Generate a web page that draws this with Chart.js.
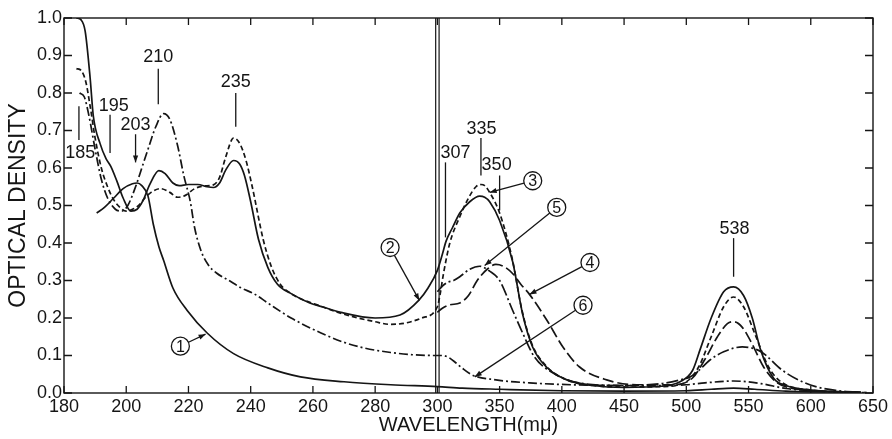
<!DOCTYPE html>
<html>
<head>
<meta charset="utf-8">
<script src="https://cdn.jsdelivr.net/npm/chart.js@4.4.0/dist/chart.umd.min.js"></script>
<style>
  html, body { margin: 0; padding: 0; background: #fff; }
</style>
</head>
<body>
<canvas id="chart" width="892" height="439"></canvas>
<script>
// x axis is broken at 300: 180-300 in steps of 20, 300-650 in steps of 50
const xTickLabels = ['180', '200', '220', '240', '260', '280', '300', '350', '400', '450', '500', '550', '600', '650'];

// curve 1 (solid)
const curve1W = [190.5, 193, 196, 199, 202, 203.5, 205, 207, 208.7, 210.5, 212, 215, 219.6, 226, 234.5, 245.5, 256, 270, 285, 300,
                 320, 350, 400, 450, 500, 520, 538, 555, 580, 640];
const curve1V = [0.48, 0.495, 0.52, 0.545, 0.558, 0.56, 0.553, 0.525, 0.45, 0.39, 0.354, 0.28, 0.22, 0.16, 0.105, 0.067, 0.043, 0.03, 0.022, 0.017,
                 0.013, 0.01, 0.006, 0.005, 0.006, 0.01, 0.013, 0.01, 0.005, 0.002];

// curve 2 (solid)
const curve2W = [184, 185.5, 186.8, 188.4, 189.4, 191.6, 193.5, 195, 197, 199, 201.5, 203.5, 205.5, 207.5, 210.5, 212.5, 215, 217, 220, 223, 226, 228,
                 230, 232, 234.5, 236.5, 238, 240, 242.5, 245.5, 248.6, 253, 259, 263, 269, 280, 288, 294, 297, 300,
                 304, 307, 312, 318, 326, 334, 338, 342, 350, 360.5, 368.5, 376.6, 388, 404, 425, 450, 480, 495, 505, 511, 520, 530, 538,
                 546, 553, 559.7, 570, 580, 600, 640];
const curve2V = [1.0, 0.995, 0.965, 0.84, 0.74, 0.665, 0.625, 0.605, 0.565, 0.52, 0.485, 0.49, 0.515, 0.555, 0.593, 0.585, 0.56, 0.553, 0.556, 0.556, 0.55, 0.548,
                 0.56, 0.595, 0.62, 0.61, 0.58, 0.51, 0.41, 0.335, 0.29, 0.265, 0.24, 0.23, 0.215, 0.2, 0.208, 0.247, 0.28, 0.327,
                 0.37, 0.405, 0.44, 0.48, 0.51, 0.525, 0.522, 0.51, 0.46, 0.35, 0.21, 0.122, 0.068, 0.035, 0.02, 0.015, 0.018, 0.03, 0.06, 0.115, 0.2, 0.27, 0.283,
                 0.26, 0.2, 0.115, 0.04, 0.02, 0.008, 0.002];

// curve 3 (short dashes)
const curve3W = [184, 185.5, 187, 188.5, 190, 192, 194, 196, 198, 200, 202, 204, 206, 208, 211, 214, 216.5, 219, 222, 225, 228,
                 230, 232, 234.5, 236.5, 238.5, 240.5, 244, 246.5, 249.5, 253, 263, 270, 280, 285, 290, 295, 300,
                 302, 305, 310, 318, 325, 331, 335, 338, 342, 350, 360, 368, 376, 388, 404, 425, 450, 480, 500, 510, 520, 530, 538,
                 546, 556, 566, 576, 600, 640];
const curve3V = [0.865, 0.86, 0.83, 0.76, 0.68, 0.6, 0.55, 0.515, 0.495, 0.485, 0.49, 0.5, 0.52, 0.535, 0.545, 0.535, 0.522, 0.527, 0.545, 0.552, 0.555,
                 0.575, 0.63, 0.68, 0.665, 0.62, 0.55, 0.41, 0.34, 0.29, 0.265, 0.23, 0.21, 0.19, 0.183, 0.187, 0.2, 0.23,
                 0.26, 0.32, 0.4, 0.47, 0.52, 0.55, 0.556, 0.553, 0.535, 0.48, 0.36, 0.22, 0.13, 0.07, 0.035, 0.02, 0.016, 0.017, 0.03, 0.07, 0.15, 0.23, 0.256,
                 0.23, 0.15, 0.07, 0.03, 0.008, 0.002];

// curve 4 (long dashes)
const curve4W = [300, 304, 310, 318, 325, 332, 340, 347, 353, 360, 367, 374, 388, 401, 414, 436, 460, 490, 505, 515, 525, 533, 538,
                 545, 553, 562, 572, 590, 640];
const curve4V = [0.215, 0.226, 0.235, 0.24, 0.26, 0.3, 0.33, 0.343, 0.338, 0.32, 0.29, 0.263, 0.194, 0.122, 0.07, 0.035, 0.022, 0.022, 0.04, 0.09, 0.15, 0.185, 0.19,
                 0.175, 0.13, 0.07, 0.03, 0.01, 0.002];

// curve 5 (dash-dot)
const curve5W = [300, 304, 308, 313, 318, 326, 334, 342, 350, 360.5, 368.5, 378, 393, 414, 450, 480, 495, 503, 510, 519, 530, 545,
                 560, 577, 590, 604, 620, 645];
const curve5V = [0.27, 0.285, 0.295, 0.3, 0.31, 0.33, 0.338, 0.325, 0.3, 0.22, 0.16, 0.096, 0.053, 0.027, 0.02, 0.025, 0.035, 0.043, 0.06, 0.088, 0.11, 0.123,
                 0.11, 0.061, 0.035, 0.017, 0.007, 0.001];

// curve 6 (dash-dot)
const curve6W = [185, 186.5, 188, 190, 192, 194, 196.5, 198.5, 200.5, 203, 205, 207, 209.5, 212, 214, 216.5, 218.5, 220.6, 222, 224, 226.5, 229,
                 233, 237, 241, 245.5, 253, 262.6, 270, 276.5, 285, 292, 300,
                 304, 307, 310, 315, 320, 328, 347, 374, 420, 470, 500, 515, 538, 560, 580, 610, 645];
const curve6V = [0.8, 0.79, 0.74, 0.65, 0.57, 0.52, 0.49, 0.485, 0.5, 0.55, 0.6, 0.65, 0.71, 0.745, 0.73, 0.66, 0.58, 0.51, 0.44, 0.38, 0.34, 0.32,
                 0.3, 0.28, 0.265, 0.24, 0.2, 0.16, 0.135, 0.12, 0.108, 0.102, 0.1,
                 0.1, 0.098, 0.093, 0.08, 0.066, 0.048, 0.035, 0.027, 0.021, 0.02, 0.022, 0.027, 0.032, 0.025, 0.012, 0.004, 0.001];

// peak labels: text position, marker line (wavelength, from, to)
const peakLabels = [
  { text: '185', tw: 185.2, tv: 0.64, lw: 184.8, l1: 0.765, l2: 0.675 },
  { text: '195', tw: 196.0, tv: 0.765, lw: 194.8, l1: 0.742, l2: 0.64 },
  { text: '203', tw: 203.0, tv: 0.715, lw: 203.0, l1: 0.69, l2: 0.615, arrow: true },
  { text: '210', tw: 210.3, tv: 0.895, lw: 210.3, l1: 0.865, l2: 0.77 },
  { text: '235', tw: 235.2, tv: 0.83, lw: 235.2, l1: 0.80, l2: 0.71 },
  { text: '307', tw: 314.5, tv: 0.64, lw: 306.5, l1: 0.615, l2: 0.415 },
  { text: '335', tw: 335.5, tv: 0.705, lw: 335.0, l1: 0.68, l2: 0.58 },
  { text: '350', tw: 347.6, tv: 0.607, lw: 350.0, l1: 0.58, l2: 0.487 },
  { text: '538', tw: 538.7, tv: 0.437, lw: 538.0, l1: 0.413, l2: 0.31 }
];

// circled curve numbers with arrows to their curve
const curveTags = [
  { n: '1', w: 217.4, v: 0.125, tw: 225.5, tv: 0.157 },
  { n: '2', w: 284.8, v: 0.388, tw: 294.2, tv: 0.247 },
  { n: '3', w: 376.6, v: 0.566, tw: 342.0, tv: 0.535 },
  { n: '4', w: 422.6, v: 0.348, tw: 374.0, tv: 0.263 },
  { n: '5', w: 395.9, v: 0.495, tw: 338.0, tv: 0.34 },
  { n: '6', w: 417.0, v: 0.234, tw: 330.0, tv: 0.043 }
];

const ink = '#151515';
const fontName = '"Liberation Sans", Arial, sans-serif';

function toAxis(w) {
  return w <= 300 ? (w - 180) / 20 : 6 + (w - 300) / 50;
}

function pts(ws, vs) {
  return ws.map((w, i) => ({ x: toAxis(w), y: vs[i] }));
}

function line(label, ws, vs, dash) {
  return {
    label: label,
    data: pts(ws, vs),
    borderColor: ink,
    borderWidth: 1.7,
    borderDash: dash,
    pointRadius: 0,
    cubicInterpolationMode: 'monotone',
    fill: false
  };
}

function arrowHead(ctx, x1, y1, x2, y2) {
  const a = Math.atan2(y2 - y1, x2 - x1);
  const len = 7, half = 2.6;
  ctx.beginPath();
  ctx.moveTo(x2, y2);
  ctx.lineTo(x2 - len * Math.cos(a) + half * Math.sin(a), y2 - len * Math.sin(a) - half * Math.cos(a));
  ctx.lineTo(x2 - len * Math.cos(a) - half * Math.sin(a), y2 - len * Math.sin(a) + half * Math.cos(a));
  ctx.closePath();
  ctx.fill();
}

const decor = {
  id: 'decor',
  afterDraw(chart) {
    const { ctx, chartArea: a } = chart;
    const x = chart.scales.x, y = chart.scales.y;
    const px = w => x.getPixelForValue(toAxis(w));
    const py = v => y.getPixelForValue(v);
    ctx.save();
    ctx.strokeStyle = ink;
    ctx.fillStyle = ink;
    ctx.setLineDash([]);

    // frame
    ctx.lineWidth = 1.4;
    ctx.strokeRect(a.left, a.top, a.right - a.left, a.bottom - a.top);

    // inward ticks on all four sides
    ctx.lineWidth = 1.3;
    ctx.beginPath();
    x.ticks.forEach(t => {
      const p = x.getPixelForValue(t.value);
      ctx.moveTo(p, a.bottom); ctx.lineTo(p, a.bottom - 7);
      ctx.moveTo(p, a.top); ctx.lineTo(p, a.top + 7);
    });
    y.ticks.forEach(t => {
      const p = y.getPixelForValue(t.value);
      ctx.moveTo(a.left, p); ctx.lineTo(a.left + 8, p);
      ctx.moveTo(a.right, p); ctx.lineTo(a.right - 8, p);
    });
    ctx.stroke();

    // double line at the scale break
    const b = px(300);
    ctx.lineWidth = 1.2;
    ctx.beginPath();
    ctx.moveTo(b - 1.7, a.top); ctx.lineTo(b - 1.7, a.bottom);
    ctx.moveTo(b + 1.7, a.top); ctx.lineTo(b + 1.7, a.bottom);
    ctx.stroke();

    // peak labels
    ctx.font = '18px ' + fontName;
    ctx.textAlign = 'center';
    ctx.textBaseline = 'middle';
    ctx.lineWidth = 1.3;
    peakLabels.forEach(p => {
      ctx.fillText(p.text, px(p.tw), py(p.tv));
      const lx = px(p.lw);
      ctx.beginPath();
      ctx.moveTo(lx, py(p.l1));
      ctx.lineTo(lx, py(p.l2));
      ctx.stroke();
      if (p.arrow) arrowHead(ctx, lx, py(p.l1), lx, py(p.l2));
    });

    // circled numbers
    const r = 9;
    ctx.font = '16px ' + fontName;
    curveTags.forEach(c => {
      const cx = px(c.w), cy = py(c.v);
      const tx = px(c.tw), ty = py(c.tv);
      ctx.beginPath();
      ctx.arc(cx, cy, r, 0, Math.PI * 2);
      ctx.stroke();
      ctx.fillText(c.n, cx, cy + 1);
      const ang = Math.atan2(ty - cy, tx - cx);
      const sx = cx + r * Math.cos(ang), sy = cy + r * Math.sin(ang);
      ctx.beginPath();
      ctx.moveTo(sx, sy);
      ctx.lineTo(tx, ty);
      ctx.stroke();
      arrowHead(ctx, sx, sy, tx, ty);
    });
    ctx.restore();
  }
};

new Chart(document.getElementById('chart').getContext('2d'), {
  type: 'line',
  data: {
    datasets: [
      line('1', curve1W, curve1V, []),
      line('2', curve2W, curve2V, []),
      line('3', curve3W, curve3V, [5, 3]),
      line('4', curve4W, curve4V, [11, 4]),
      line('5', curve5W, curve5V, [12, 3, 2, 3]),
      line('6', curve6W, curve6V, [9, 3, 2, 3])
    ]
  },
  options: {
    responsive: false,
    animation: false,
    layout: { padding: { top: 18, right: 19, left: 0, bottom: 0 } },
    plugins: {
      legend: { display: false },
      tooltip: { enabled: false }
    },
    scales: {
      x: {
        type: 'linear',
        min: 0,
        max: 13,
        grid: { display: false, drawTicks: false },
        border: { display: false },
        ticks: {
          stepSize: 1,
          padding: 3,
          color: ink,
          font: { family: fontName, size: 18 },
          maxRotation: 0,
          autoSkip: false,
          callback: v => xTickLabels[v]
        },
        title: {
          display: true,
          text: 'WAVELENGTH(mμ)',
          color: ink,
          font: { family: fontName, size: 20 },
          padding: { top: 0, bottom: 2 }
        },
        afterFit: s => { s.height = 46; }
      },
      y: {
        min: 0,
        max: 1,
        grid: { display: false, drawTicks: false },
        border: { display: false },
        ticks: {
          stepSize: 0.1,
          padding: 2,
          color: ink,
          font: { family: fontName, size: 18 },
          callback: v => v.toFixed(1)
        },
        title: {
          display: true,
          text: 'OPTICAL DENSITY',
          color: ink,
          font: { family: fontName, size: 23 },
          padding: { top: 5, bottom: 0 }
        },
        afterFit: s => { s.width = 64; }
      }
    }
  },
  plugins: [decor]
});
</script>
</body>
</html>
